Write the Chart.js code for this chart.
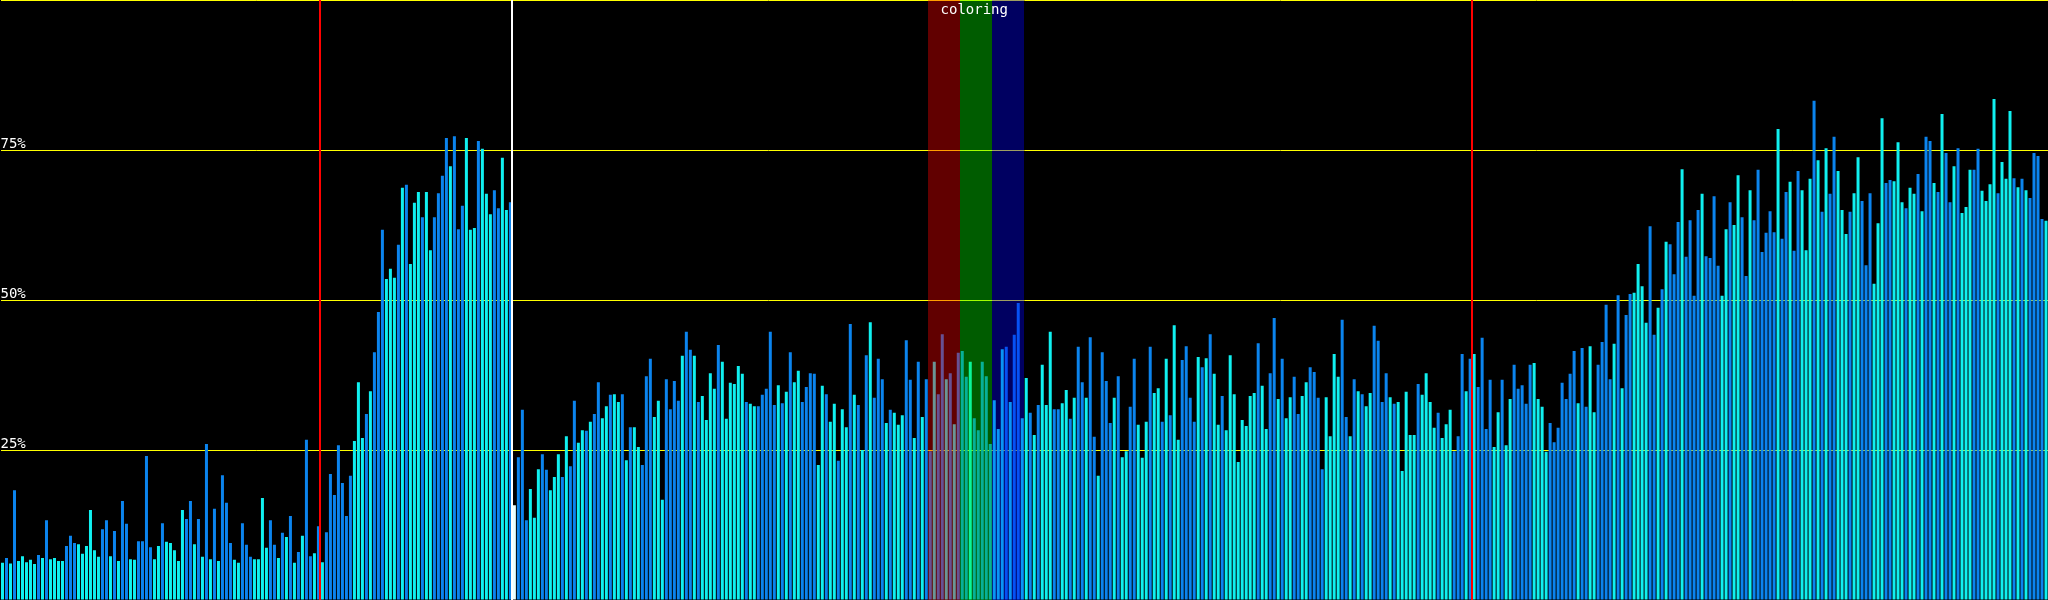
<!DOCTYPE html>
<html>
<head>
<meta charset="utf-8">
<script src="https://cdn.jsdelivr.net/npm/chart.js@4.4.1/dist/chart.umd.min.js"></script>
<style>
  html, body { margin: 0; padding: 0; background: #000; overflow: hidden; }
  #wrap { width: 2048px; height: 600px; position: relative; }
</style>
</head>
<body>
<div id="wrap"><canvas id="grafico"></canvas></div>
<script>
// valores por barra (%)
const valores = [
  6.2,7.0,6.1,18.3,6.5,7.3,6.3,6.7,6.0,7.5,7.0,13.3,6.8,7.0,6.5,6.5,9.0,10.7,9.5,9.3,7.7,9.0,15.0,8.3,7.2,11.8,13.3,7.3,11.5,6.5,16.5,12.7,6.8,6.7,9.8,9.8,24.0,8.8,6.8,9.0,12.8,9.7,9.5,8.3,6.5,15.0,13.5,
  16.5,9.3,13.5,7.2,26.0,6.8,15.2,6.5,20.8,16.2,9.5,6.7,6.2,12.8,9.2,7.2,6.8,6.8,17.0,8.7,13.3,9.2,7.0,11.2,10.5,14.0,6.2,8.0,10.7,26.7,7.3,7.8,12.3,6.3,11.3,21.0,17.5,25.8,19.5,14.0,20.7,26.5,36.3,27.0,31.0,34.8,
  41.3,48.0,61.7,53.5,55.2,53.7,59.2,68.7,69.2,56.0,66.2,68.0,63.8,68.0,58.3,63.8,67.8,70.7,77.0,72.3,77.3,61.8,65.7,77.0,61.7,62.0,76.5,75.2,67.7,64.3,68.3,65.3,73.7,65.0,66.3,15.8,23.8,31.7,13.3,18.5,13.7,21.8,24.3,21.7,18.3,20.5,24.3,
  20.5,27.3,22.3,33.2,26.2,28.3,28.2,29.7,31.0,36.3,30.3,32.3,34.2,34.3,33.0,34.3,23.3,28.8,28.8,25.5,22.5,37.3,40.2,30.5,33.2,16.7,36.8,31.8,36.5,33.2,40.7,44.7,41.7,40.7,33.0,34.0,30.0,37.8,35.2,42.5,39.7,30.2,36.2,36.0,39.0,37.7,
  33.0,32.7,32.3,32.3,34.2,35.2,44.7,32.5,35.8,32.8,34.7,41.3,36.3,38.2,33.0,35.5,37.8,37.7,22.5,35.7,34.3,29.7,32.7,23.2,31.8,28.8,46.0,34.2,32.5,25.0,40.8,46.3,33.7,40.2,36.8,29.5,31.7,31.2,29.2,30.8,43.3,36.7,27.0,39.7,30.5,36.8,
  24.8,39.7,34.3,44.3,36.8,37.8,29.3,41.2,41.5,37.2,39.7,30.3,28.3,39.7,37.3,26.0,33.3,28.5,41.8,42.2,33.0,44.2,49.5,30.3,37.0,31.2,27.5,32.5,39.2,32.5,44.7,31.8,31.8,32.8,35.0,30.2,33.7,42.2,36.3,33.7,43.8,27.2,20.7,41.3,36.5,29.5,33.7,
  37.3,23.8,24.8,32.2,40.2,29.2,23.7,29.7,42.2,34.5,35.3,29.7,40.2,30.8,45.8,26.7,40.0,42.3,33.7,29.7,40.5,38.8,40.3,44.3,37.7,29.2,34.0,28.3,40.8,34.3,23.0,30.0,29.0,34.0,34.5,42.8,35.7,28.5,37.8,47.0,33.5,40.2,30.3,33.8,37.2,31.0,34.0,
  36.3,38.8,38.0,33.7,21.8,33.8,27.3,41.0,37.2,46.7,30.5,27.3,36.8,34.8,34.3,32.3,34.5,45.7,43.2,33.0,37.8,33.8,32.7,33.0,21.5,34.7,27.5,27.5,36.0,34.2,37.8,33.0,28.7,31.2,27.0,29.3,31.7,24.8,27.3,41.0,34.8,40.2,41.0,35.5,43.7,28.5,
  36.7,25.5,31.3,36.7,25.8,33.5,39.2,35.2,35.8,32.7,39.2,39.5,33.5,32.2,24.7,29.5,26.3,28.7,36.2,33.5,37.7,41.5,32.8,42.0,32.2,42.3,31.3,39.2,43.0,49.2,36.8,42.7,50.8,35.3,47.5,51.0,51.2,56.0,52.3,46.2,62.3,44.2,48.7,51.8,59.7,59.3,54.3,
  63.0,71.8,57.2,63.3,50.7,65.0,67.7,57.3,57.0,67.3,55.7,50.7,61.8,66.3,62.5,70.8,63.8,54.0,68.3,63.3,71.7,58.0,61.2,64.8,61.3,78.5,60.2,68.0,69.7,58.2,71.5,68.3,58.3,70.2,83.2,73.3,64.7,75.3,67.7,77.2,71.5,65.0,61.0,64.7,67.8,73.8,
  66.5,55.8,67.8,52.7,62.8,80.3,69.5,70.0,69.8,76.3,66.3,65.3,68.7,67.7,71.0,64.8,77.2,76.5,69.5,68.0,81.0,74.5,66.3,72.3,75.3,64.5,65.5,71.7,71.7,75.2,68.2,66.5,69.3,83.5,67.8,73.0,70.2,81.5,70.3,68.8,70.2,68.3,67.0,74.5,74.0,63.5,63.2
];

// tipo de cada barra: b = azul, c = cian, w = blanca
const tipos = [
  'cbcbcccccb','cbccccbbbc','cccccbbcbc','bbccbbbbcc','bcccccb',
  'bcbcbcbcbb','bccbbbcccc','bbcbcbcbcb','bcbcbbbbbb','bcccbc',
  'bbbcccbcbc','ccbccbbbbc','bbbcccbccc','bbccbwbbbc','ccbbccc',
  'bcbbccbcbb','ccbccbcbcc','bbbcccbbbb','cbbcbccccb','cccccc',
  'bccbbbbbcb','cbccbbbbcc','bccbccbcbc','bcbbbcbccc','bbcbcb',
  'bcbbcbcbbb','cbbbbbcccb','cbbccbcbcc','cbbccbcbbc','bbcbbbc',
  'bccbbcccbc','cbcbccbbbb','cbcbccbccc','cccccbccbb','cbccbbc',
  'cbbbbccccb','bcbcbccbbb','bcbcccccbc','cccbcccbbb','cbcbbb',
  'bccbccbbbb','bccccbbbbb','bbcbbccbbb','bcbcbbcccc','bbcbcbb',
  'bcbbbbcbbb','bccbccbbcb','bbbbbcbbcb','bcccbcbcbb','cccbcc',
  'bbbcccbbcc','cbccbcbbcb','cbbcbcccbb','ccccbcccbc','bcbbbbc'
].join('').split('');

const ejeY = [25, 50, 75];
const marcasRojas = [80, 368];
const marcasBlancas = [128];
const franjas = [232, 240, 248, 256]; // inicio de cada franja y fin de la ultima
const titulo = 'coloring';

if (valores.length !== tipos.length) console.warn('largos', valores.length, tipos.length);

const colores = { b: '#0b84ee', c: '#10f0f0', w: '#e8ffff' };
const coloresFranja = ['rgba(255,0,0,0.38)', 'rgba(0,255,0,0.36)', 'rgba(0,0,255,0.38)'];
const fuente = '"DejaVu Sans Mono", monospace';

const etiquetas = valores.map((v, i) => String(i));

// franjas de color encima de las barras
const franjasPlugin = {
  id: 'franjas',
  afterDatasetsDraw(chart) {
    const ctx = chart.ctx;
    const x = chart.scales.x;
    const a = chart.chartArea;
    const mitad = (x.getPixelForValue(1) - x.getPixelForValue(0)) / 2;
    ctx.save();
    for (let k = 0; k < franjas.length - 1; k++) {
      const x0 = Math.floor(x.getPixelForValue(franjas[k]) - mitad);
      const x1 = Math.floor(x.getPixelForValue(franjas[k + 1]) - mitad);
      ctx.fillStyle = coloresFranja[k];
      ctx.fillRect(x0, a.top, x1 - x0, a.bottom - a.top);
    }
    ctx.restore();
  }
};

// lineas verticales y titulo
const marcasPlugin = {
  id: 'marcas',
  afterDraw(chart) {
    const ctx = chart.ctx;
    const x = chart.scales.x;
    const a = chart.chartArea;
    const borde = i => Math.floor((x.getPixelForValue(i - 1) + x.getPixelForValue(i)) / 2);
    ctx.save();
    ctx.lineWidth = 2;
    const linea = (i, color) => {
      ctx.strokeStyle = color;
      ctx.beginPath();
      ctx.moveTo(borde(i), a.top);
      ctx.lineTo(borde(i), a.bottom);
      ctx.stroke();
    };
    marcasRojas.forEach(i => linea(i, '#ff0000'));
    marcasBlancas.forEach(i => linea(i, '#ffffff'));

    const mitad = (x.getPixelForValue(1) - x.getPixelForValue(0)) / 2;
    const cx = (x.getPixelForValue(franjas[0]) + x.getPixelForValue(franjas[franjas.length - 1])) / 2 - mitad;
    ctx.fillStyle = '#ffffff';
    ctx.font = '14px ' + fuente;
    ctx.textAlign = 'center';
    ctx.textBaseline = 'top';
    ctx.fillText(titulo, cx - 2, 3);
    ctx.restore();
  }
};

const ctx = document.getElementById('grafico').getContext('2d');

const grafico = new Chart(ctx, {
  type: 'bar',
  data: {
    labels: etiquetas,
    datasets: [{
      data: valores,
      backgroundColor: tipos.map(t => colores[t]),
      borderWidth: 0,
      categoryPercentage: 1,
      barPercentage: 0.75
    }]
  },
  options: {
    responsive: true,
    maintainAspectRatio: false,
    animation: false,
    layout: { padding: { left: 0.5, right: -0.5, top: 0, bottom: 0 } },
    plugins: { legend: { display: false }, tooltip: { enabled: false } },
    scales: {
      x: {
        display: false,
        grid: { display: false }
      },
      y: {
        min: 0,
        max: 100,
        z: 1,
        border: { display: false },
        afterFit: s => { s.paddingTop = 0; s.paddingBottom = 0; },
        grid: {
          drawTicks: false,
          lineWidth: 1,
          color: c => (c.tick && c.tick.value > 0) ? '#ffff00' : 'rgba(0,0,0,0)'
        },
        ticks: {
          stepSize: 25,
          mirror: true,
          padding: 0,
          labelOffset: -6,
          color: '#ffffff',
          font: { family: fuente, size: 14 },
          callback: v => ejeY.includes(v) ? v + '%' : ''
        }
      }
    }
  },
  plugins: [franjasPlugin, marcasPlugin]
});
</script>
</body>
</html>
